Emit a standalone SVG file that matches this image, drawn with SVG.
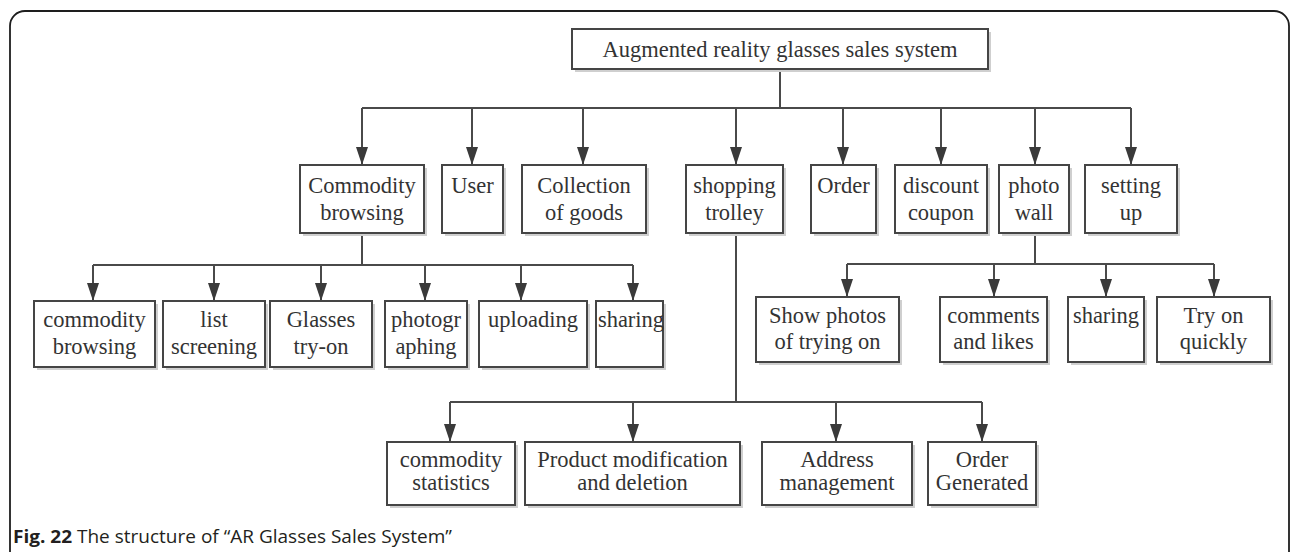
<svg xmlns="http://www.w3.org/2000/svg" width="1292" height="552" viewBox="0 0 1292 552">
  <defs>
    <marker id="arrow" markerUnits="userSpaceOnUse" markerWidth="18" markerHeight="12" refX="18" refY="6" orient="auto">
      <path d="M0,0 L18,6 L0,12 Z" fill="#3a3a3a"/>
    </marker>
  </defs>
  <style>
    .frame { fill: none; stroke: #1e1e1e; stroke-width: 1.8; }
    .node .s { fill: #cfcfcf; }
    .node .b { fill: #ffffff; stroke: #454545; stroke-width: 2; }
    .node text { font-family: "Liberation Serif", "Times New Roman", serif; font-size: 22.5px; fill: #333333; text-anchor: middle; }
    .conn path { fill: none; stroke: #4a4a4a; stroke-width: 2; }
    .conn .arr { marker-end: url(#arrow); }
    .caption { font-family: "Open Sans", "Noto Sans", sans-serif; font-size: 18.5px; fill: #231f20; }
  </style>

  <rect width="1292" height="552" fill="#ffffff"/>

  <!-- outer frame, open at the bottom -->
  <path class="frame" d="M10,552 V26 A15,15 0 0 1 25,11 H1274 A15,15 0 0 1 1289,26 V552"/>

  <!-- connectors -->
  <g id="connectors" class="conn">
    <!-- root to first level -->
    <path d="M780,69 V108"/>
    <path d="M362,108 H1131"/>
    <path class="arr" d="M362,108 V165"/>
    <path class="arr" d="M472,108 V165"/>
    <path class="arr" d="M583,108 V165"/>
    <path class="arr" d="M736,108 V165"/>
    <path class="arr" d="M843,108 V165"/>
    <path class="arr" d="M941,108 V165"/>
    <path class="arr" d="M1035,108 V165"/>
    <path class="arr" d="M1131,108 V165"/>
    <!-- commodity browsing branch -->
    <path d="M362,233 V265"/>
    <path d="M93,265 H633"/>
    <path class="arr" d="M93,265 V301"/>
    <path class="arr" d="M214,265 V301"/>
    <path class="arr" d="M321,265 V301"/>
    <path class="arr" d="M425,265 V301"/>
    <path class="arr" d="M521,265 V301"/>
    <path class="arr" d="M633,265 V301"/>
    <!-- photo wall branch -->
    <path d="M1035,233 V264"/>
    <path d="M847,264 H1214"/>
    <path class="arr" d="M847,264 V297"/>
    <path class="arr" d="M994,264 V297"/>
    <path class="arr" d="M1106,264 V297"/>
    <path class="arr" d="M1214,264 V297"/>
    <!-- shopping trolley branch -->
    <path d="M736,233 V402"/>
    <path d="M450,402 H982"/>
    <path class="arr" d="M450,402 V442"/>
    <path class="arr" d="M633,402 V442"/>
    <path class="arr" d="M836,402 V442"/>
    <path class="arr" d="M982,402 V442"/>
  </g>

  <!-- root -->
  <g id="root" class="node">
    <rect class="s" x="575" y="32" width="416" height="40"/>
    <rect class="b" x="572" y="29" width="416" height="40"/>
    <text x="780" y="57">Augmented reality glasses sales system</text>
  </g>

  <!-- first level -->
  <g id="commodity-browsing" class="node">
    <rect class="s" x="303" y="168" width="124" height="68"/>
    <rect class="b" x="300" y="165" width="124" height="68"/>
    <text x="362" y="193">Commodity</text>
    <text x="362" y="220">browsing</text>
  </g>
  <g id="user" class="node">
    <rect class="s" x="445" y="168" width="61" height="68"/>
    <rect class="b" x="442" y="165" width="61" height="68"/>
    <text x="472.5" y="193">User</text>
  </g>
  <g id="collection" class="node">
    <rect class="s" x="525" y="168" width="124" height="68"/>
    <rect class="b" x="522" y="165" width="124" height="68"/>
    <text x="584" y="193">Collection</text>
    <text x="584" y="220">of goods</text>
  </g>
  <g id="shopping-trolley" class="node">
    <rect class="s" x="689" y="168" width="97" height="68"/>
    <rect class="b" x="686" y="165" width="97" height="68"/>
    <text x="734.5" y="193">shopping</text>
    <text x="734.5" y="220">trolley</text>
  </g>
  <g id="order" class="node">
    <rect class="s" x="814" y="168" width="65" height="68"/>
    <rect class="b" x="811" y="165" width="65" height="68"/>
    <text x="843.5" y="193">Order</text>
  </g>
  <g id="discount-coupon" class="node">
    <rect class="s" x="898" y="168" width="92" height="68"/>
    <rect class="b" x="895" y="165" width="92" height="68"/>
    <text x="941" y="193">discount</text>
    <text x="941" y="220">coupon</text>
  </g>
  <g id="photo-wall" class="node">
    <rect class="s" x="1002" y="168" width="70" height="68"/>
    <rect class="b" x="999" y="165" width="70" height="68"/>
    <text x="1034" y="193">photo</text>
    <text x="1034" y="220">wall</text>
  </g>
  <g id="setting-up" class="node">
    <rect class="s" x="1088" y="168" width="92" height="68"/>
    <rect class="b" x="1085" y="165" width="92" height="68"/>
    <text x="1131" y="193">setting</text>
    <text x="1131" y="220">up</text>
  </g>

  <!-- commodity browsing children -->
  <g id="cb-commodity-browsing" class="node">
    <rect class="s" x="37" y="304" width="121" height="66"/>
    <rect class="b" x="34" y="301" width="121" height="66"/>
    <text x="94.5" y="327">commodity</text>
    <text x="94.5" y="354">browsing</text>
  </g>
  <g id="cb-list-screening" class="node">
    <rect class="s" x="166" y="304" width="102" height="66"/>
    <rect class="b" x="163" y="301" width="102" height="66"/>
    <text x="214" y="327">list</text>
    <text x="214" y="354">screening</text>
  </g>
  <g id="cb-glasses-try-on" class="node">
    <rect class="s" x="273" y="304" width="102" height="66"/>
    <rect class="b" x="270" y="301" width="102" height="66"/>
    <text x="321" y="327">Glasses</text>
    <text x="321" y="354">try-on</text>
  </g>
  <g id="cb-photographing" class="node">
    <rect class="s" x="388" y="304" width="82" height="66"/>
    <rect class="b" x="385" y="301" width="82" height="66"/>
    <text x="426" y="327">photogr</text>
    <text x="426" y="354">aphing</text>
  </g>
  <g id="cb-uploading" class="node">
    <rect class="s" x="482" y="304" width="108" height="66"/>
    <rect class="b" x="479" y="301" width="108" height="66"/>
    <text x="533" y="327">uploading</text>
  </g>
  <g id="cb-sharing" class="node">
    <rect class="s" x="599" y="304" width="67" height="66"/>
    <rect class="b" x="596" y="301" width="67" height="66"/>
    <text x="631" y="327">sharing</text>
  </g>

  <!-- photo wall children -->
  <g id="pw-show-photos" class="node">
    <rect class="s" x="759" y="300" width="143" height="65"/>
    <rect class="b" x="756" y="297" width="143" height="65"/>
    <text x="827.5" y="323">Show photos</text>
    <text x="827.5" y="349">of trying on</text>
  </g>
  <g id="pw-comments" class="node">
    <rect class="s" x="943" y="300" width="107" height="65"/>
    <rect class="b" x="940" y="297" width="107" height="65"/>
    <text x="993.5" y="323">comments</text>
    <text x="993.5" y="349">and likes</text>
  </g>
  <g id="pw-sharing" class="node">
    <rect class="s" x="1071" y="300" width="76" height="65"/>
    <rect class="b" x="1068" y="297" width="76" height="65"/>
    <text x="1106" y="323">sharing</text>
  </g>
  <g id="pw-try-on" class="node">
    <rect class="s" x="1160" y="300" width="113" height="65"/>
    <rect class="b" x="1157" y="297" width="113" height="65"/>
    <text x="1213.5" y="323">Try on</text>
    <text x="1213.5" y="349">quickly</text>
  </g>

  <!-- shopping trolley children -->
  <g id="st-statistics" class="node">
    <rect class="s" x="390" y="445" width="128" height="63"/>
    <rect class="b" x="387" y="442" width="128" height="63"/>
    <text x="451" y="467">commodity</text>
    <text x="451" y="490">statistics</text>
  </g>
  <g id="st-modification" class="node">
    <rect class="s" x="528" y="445" width="215" height="63"/>
    <rect class="b" x="525" y="442" width="215" height="63"/>
    <text x="632.5" y="467">Product modification</text>
    <text x="632.5" y="490">and deletion</text>
  </g>
  <g id="st-address" class="node">
    <rect class="s" x="765" y="445" width="150" height="63"/>
    <rect class="b" x="762" y="442" width="150" height="63"/>
    <text x="837" y="467">Address</text>
    <text x="837" y="490">management</text>
  </g>
  <g id="st-order-generated" class="node">
    <rect class="s" x="931" y="445" width="108" height="63"/>
    <rect class="b" x="928" y="442" width="108" height="63"/>
    <text x="982" y="467">Order</text>
    <text x="982" y="490">Generated</text>
  </g>

  <!-- figure caption -->
  <text class="caption" x="13" y="543" textLength="439" lengthAdjust="spacingAndGlyphs"><tspan font-weight="bold">Fig. 22</tspan> The structure of “AR Glasses Sales System”</text>
</svg>
